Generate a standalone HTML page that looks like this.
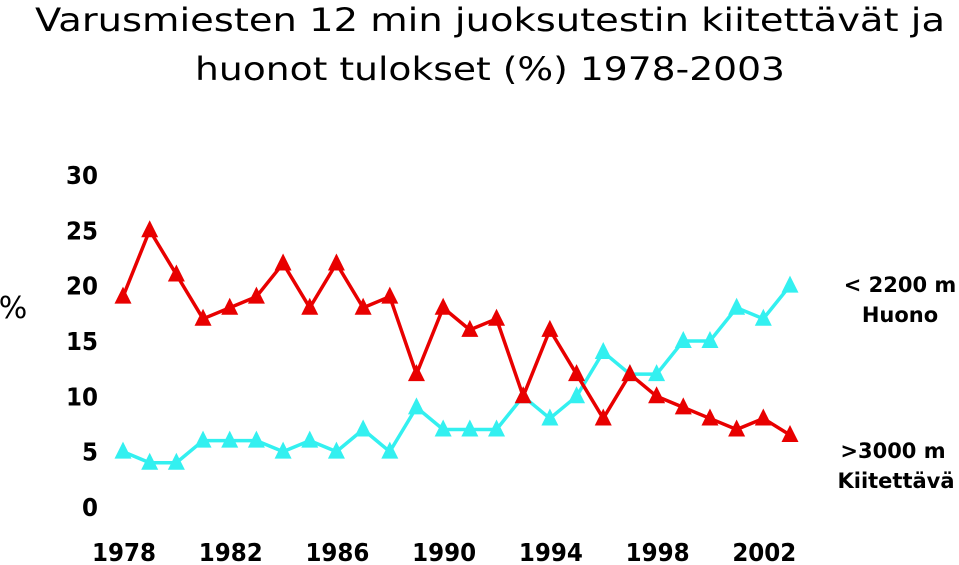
<!DOCTYPE html>
<html><head><meta charset="utf-8"><style>
html,body{margin:0;padding:0;background:#fff;width:959px;height:565px;overflow:hidden}
text{font-family:"DejaVu Sans","Liberation Sans",sans-serif}
</style></head><body>
<svg id="chart" width="959" height="565" xmlns="http://www.w3.org/2000/svg">
<text x="490" y="31" text-anchor="middle" font-size="32" font-weight="500" textLength="910" lengthAdjust="spacingAndGlyphs">Varusmiesten 12 min juoksutestin kiitettävät ja</text>
<text x="490" y="80" text-anchor="middle" font-size="32" font-weight="500" textLength="590" lengthAdjust="spacingAndGlyphs">huonot tulokset (%) 1978-2003</text>
<text x="13" y="318" text-anchor="middle" font-family="Liberation Sans" font-size="30">%</text>
<g id="yt"></g>
<g id="xt"></g>
<g id="series"></g>
<text x="900" y="292" text-anchor="middle" font-size="21" font-weight="bold">&lt; 2200 m</text>
<text x="900" y="322" text-anchor="middle" font-size="21" font-weight="bold">Huono</text>
<text x="893" y="458" text-anchor="middle" font-size="21" font-weight="bold">&gt;3000 m</text>
<text x="896" y="488" text-anchor="middle" font-size="21" font-weight="bold">Kiitettävä</text>
</svg>
<script>
const years=[1978,1979,1980,1981,1982,1983,1984,1985,1986,1987,1988,1989,1990,1991,1992,1993,1994,1995,1996,1997,1998,1999,2000,2001,2002,2003];
const huono=[19,25,21,17,18,19,22,18,22,18,19,12,18,16,17,10,16,12,8,12,10,9,8,7,8,6.5];
const kiitettava=[5,4,4,6,6,6,5,6,5,7,5,9,7,7,7,10,8,10,14,12,12,15,15,18,17,20];
const yTicks=[0,5,10,15,20,25,30];
const xTicks=[1978,1982,1986,1990,1994,1998,2002];
const NS="http://www.w3.org/2000/svg";
const X=y=>123+(y-1978)*26.68;
const Y=v=>507-v*11.07;
function mk(t,a,p){const e=document.createElementNS(NS,t);for(const k in a)e.setAttribute(k,a[k]);p.appendChild(e);return e;}
const yt=document.getElementById('yt'),xt=document.getElementById('xt'),sg=document.getElementById('series');
yTicks.forEach(v=>{const s=String(v);const t=mk('text',{x:98,y:Y(v)+9,'text-anchor':'end','font-family':'Liberation Sans','font-weight':'bold','font-size':25,textLength:s.length*16,lengthAdjust:'spacingAndGlyphs'},yt);t.textContent=s;

});
xTicks.forEach(v=>{const t=mk('text',{x:X(v)+1,y:561,'text-anchor':'middle','font-family':'Liberation Sans','font-weight':'bold','font-size':25,textLength:64,lengthAdjust:'spacingAndGlyphs'},xt);t.textContent=v;

});
function series(vals,color,name){
const g=mk('g',{},sg);


const l=mk('polyline',{points:vals.map((v,i)=>X(years[i])+','+Y(v)).join(' '),fill:'none',stroke:color,'stroke-width':3.5,'stroke-linejoin':'round'},g);


vals.forEach((v,i)=>{const x=X(years[i]),y=Y(v);
const p=mk('polygon',{points:`${x},${y-10} ${x-8.5},${y+7} ${x+8.5},${y+7}`,fill:color},g);

});
}
series(kiitettava,'#33f0f0','kiitettava');
series(huono,'#e80000','huono');
</script>
</body></html>
